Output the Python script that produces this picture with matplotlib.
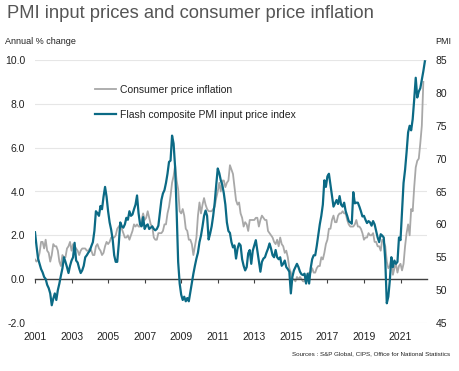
import numpy as np
import matplotlib
matplotlib.use("Agg")
import matplotlib.pyplot as plt

# UK CPI, annual % change, monthly from Jan 2001
cpi = [0.9, 0.8, 0.9, 1.2, 1.7, 1.7, 1.4, 1.8, 1.3, 1.2, 0.8, 1.1,
       1.6, 1.5, 1.5, 1.3, 0.8, 0.6, 1.1, 1.0, 1.0, 1.4, 1.5, 1.7,
       1.3, 1.6, 1.5, 1.4, 1.3, 1.1, 1.3, 1.4, 1.4, 1.4, 1.3, 1.3,
       1.4, 1.3, 1.1, 1.1, 1.5, 1.6, 1.4, 1.3, 1.1, 1.2, 1.5, 1.7,
       1.6, 1.7, 1.9, 1.9, 1.9, 2.0, 2.3, 2.4, 2.5, 2.3, 2.1, 1.9,
       1.9, 2.0, 1.8, 2.0, 2.2, 2.5, 2.4, 2.5, 2.4, 2.4, 2.7, 3.0,
       2.7, 2.8, 3.1, 2.8, 2.5, 2.4, 1.9, 1.8, 1.8, 2.1, 2.1, 2.1,
       2.2, 2.5, 2.5, 3.0, 3.3, 3.8, 4.4, 4.7, 5.2, 4.5, 4.1, 3.1,
       3.0, 3.2, 2.9, 2.3, 2.2, 1.8, 1.8, 1.6, 1.1, 1.5, 1.9, 2.9,
       3.5, 3.0, 3.4, 3.7, 3.4, 3.2, 3.1, 3.1, 3.1, 3.2, 3.3, 3.7,
       4.0, 4.4, 4.0, 4.5, 4.5, 4.2, 4.4, 4.5, 5.2, 5.0, 4.8, 4.2,
       3.6, 3.4, 3.5, 3.0, 2.8, 2.4, 2.6, 2.5, 2.2, 2.7, 2.7, 2.7,
       2.7, 2.8, 2.8, 2.4, 2.7, 2.9, 2.8, 2.7, 2.7, 2.2, 2.1, 2.0,
       1.9, 1.7, 1.6, 1.8, 1.5, 1.9, 1.6, 1.5, 1.2, 1.3, 1.0, 0.5,
       0.3, 0.0, 0.0, -0.1, 0.1, 0.0, 0.1, 0.0, -0.1, -0.1, 0.1, 0.2,
       0.3, 0.3, 0.5, 0.3, 0.3, 0.5, 0.6, 0.6, 1.0, 0.9, 1.2, 1.6,
       1.8, 2.3, 2.3, 2.7, 2.9, 2.6, 2.6, 2.9, 3.0, 3.0, 3.1, 3.0,
       3.0, 2.7, 2.5, 2.4, 2.4, 2.4, 2.5, 2.7, 2.4, 2.4, 2.3, 2.1,
       1.8, 1.9, 1.9, 2.1, 2.0, 2.0, 2.1, 1.7, 1.7, 1.5, 1.5, 1.3,
       1.8, 1.7, 1.5, 0.8, 0.5, 0.6, 1.0, 0.2, 0.5, 0.7, 0.3, 0.6,
       0.7, 0.4, 0.7, 1.5, 2.1, 2.5, 2.0, 3.2, 3.1, 4.2, 5.1, 5.4,
       5.5, 6.2, 7.0, 9.0]

# Flash composite PMI input price index, monthly from Jan 2001
pmi = [58.8, 56.7, 54.8, 54.0, 53.2, 52.7, 52.0, 51.7, 50.8, 50.3, 49.5, 47.7,
       48.7, 49.5, 48.5, 50.0, 51.0, 52.2, 53.3, 55.0, 54.3, 53.5, 52.6, 53.7,
       54.5, 55.0, 57.2, 54.5, 54.2, 53.3, 52.6, 53.0, 53.7, 55.0, 55.3, 55.7,
       56.0, 56.7, 57.3, 59.0, 62.0, 61.7, 61.3, 62.8, 62.3, 64.2, 65.7, 64.2,
       62.0, 60.3, 59.2, 57.7, 55.3, 54.3, 54.3, 57.0, 60.3, 59.7, 59.5, 60.0,
       61.0, 60.7, 62.0, 61.3, 61.5, 62.3, 63.0, 64.4, 61.7, 60.0, 59.7, 61.1,
       59.3, 59.8, 60.0, 59.3, 59.5, 59.7, 59.3, 59.1, 59.3, 59.8, 61.7, 63.7,
       64.7, 65.2, 66.3, 67.7, 69.5, 69.7, 73.5, 72.3, 68.7, 62.0, 54.3, 51.0,
       49.3, 48.5, 49.0, 48.3, 48.8, 48.3, 49.7, 51.2, 52.5, 53.7, 54.8, 55.7,
       57.3, 58.3, 59.7, 61.3, 62.1, 61.3, 57.7, 58.6, 59.7, 61.3, 63.3, 66.0,
       68.5, 67.8, 66.7, 66.0, 64.7, 63.0, 60.3, 59.0, 58.7, 57.3, 56.5, 56.8,
       54.8, 56.3, 57.1, 56.8, 54.7, 53.7, 53.0, 53.5, 55.6, 56.1, 54.0, 56.0,
       56.8, 57.6, 56.0, 54.3, 52.8, 54.3, 54.8, 55.0, 55.7, 56.3, 57.1, 56.3,
       55.3, 55.0, 56.1, 55.0, 54.7, 55.0, 53.7, 54.0, 54.5, 53.5, 53.2, 52.8,
       49.5, 52.0, 53.0, 53.5, 54.0, 53.5, 52.8, 52.4, 52.3, 52.5, 51.0, 52.5,
       51.0, 53.3, 54.7, 55.3, 55.3, 56.7, 58.3, 60.0, 61.3, 63.0, 66.7, 65.7,
       67.3, 67.7, 66.0, 64.3, 62.7, 63.2, 63.7, 63.1, 64.3, 63.0, 62.7, 63.3,
       62.0, 61.3, 60.5, 60.3, 60.1, 64.9, 63.2, 63.3, 63.3, 62.7, 62.0, 61.2,
       61.3, 60.7, 60.2, 60.5, 60.3, 59.8, 60.5, 60.0, 59.0, 58.0, 57.3, 58.5,
       58.3, 58.0, 54.5, 48.0, 49.0, 51.5, 55.0, 53.5, 54.5, 54.0, 54.3, 58.0,
       57.6, 62.1, 66.3, 68.3, 71.0, 74.0, 75.0, 74.3, 76.0, 79.0, 82.3, 79.3,
       80.2, 80.7, 82.0, 83.3, 84.8]

start_year = 2001
year_ticks = [2001, 2003, 2005, 2007, 2009, 2011, 2013, 2015, 2017, 2019, 2021]
left_ticks = [-2, 0, 2, 4, 6, 8, 10]
right_ticks = [45, 50, 55, 60, 65, 70, 75, 80, 85]

t_cpi = start_year + np.arange(len(cpi)) / 12
t_pmi = start_year + np.arange(len(pmi)) / 12

plt.rcParams['font.family'] = ['Liberation Sans', 'DejaVu Sans']

teal = '#0b6a85'
grey = '#a8a8a8'

fig = plt.figure(figsize=(4.59, 3.71), dpi=100)
ax = fig.add_axes([35/459, 1 - 323/371, 392/459, 263/371])
ax2 = ax.twinx()

l1, = ax.plot(t_cpi, cpi, color=grey, lw=1.3, label='Consumer price inflation')
l2, = ax2.plot(t_pmi, pmi, color=teal, lw=1.6, label='Flash composite PMI input price index')

ax.set_xlim(2001, 2022.45)
ax.set_ylim(-2, 10)
ax2.set_ylim(45, 85)

ax.set_yticks(left_ticks)
ax.set_yticklabels([f'{v:.1f}' for v in left_ticks])
ax2.set_yticks(right_ticks)
ax.set_xticks(year_ticks)

for s in ['top', 'right', 'left']:
    ax.spines[s].set_visible(False)
for s in ax2.spines.values():
    s.set_visible(False)
ax.spines['bottom'].set_position(('data', 0))
ax.spines['bottom'].set_color('#404040')
ax.spines['bottom'].set_linewidth(1.0)

ax.grid(axis='y', color='#e6e6e6', lw=0.8)
ax.set_axisbelow(True)
ax.tick_params(axis='y', length=0, pad=7, labelsize=7.5, labelcolor='#222222')
ax2.tick_params(axis='y', length=0, pad=6, labelsize=7.5, labelcolor='#222222')
ax.tick_params(axis='x', direction='out', length=3, width=0.8, color='#404040',
               pad=35, labelsize=7.5, labelcolor='#222222')

fig.text(7/459, 1 - 14/371, 'PMI input prices and consumer price inflation',
         fontsize=13.2, color='#555555', va='center', ha='left')
fig.text(5/459, 1 - 42/371, 'Annual % change', fontsize=6.5, color='#222222',
         va='center', ha='left')
fig.text(451/459, 1 - 42/371, 'PMI', fontsize=6.5, color='#222222',
         va='center', ha='right')
fig.text(450/459, 1 - 354/371,
         'Sources : S&P Global, CIPS, Office for National Statistics',
         fontsize=4.5, color='#222222', va='center', ha='right')

leg = ax2.legend(handles=[l1, l2], loc='upper left',
                 bbox_to_anchor=((95 - 35)/392, (323 - 85)/263),
                 frameon=False, fontsize=7.5, handlelength=2.0,
                 handletextpad=0.4, labelspacing=1.4, borderpad=0,
                 borderaxespad=0)
for txt in leg.get_texts():
    txt.set_color('#222222')

fig.savefig('out.png', dpi=100)
